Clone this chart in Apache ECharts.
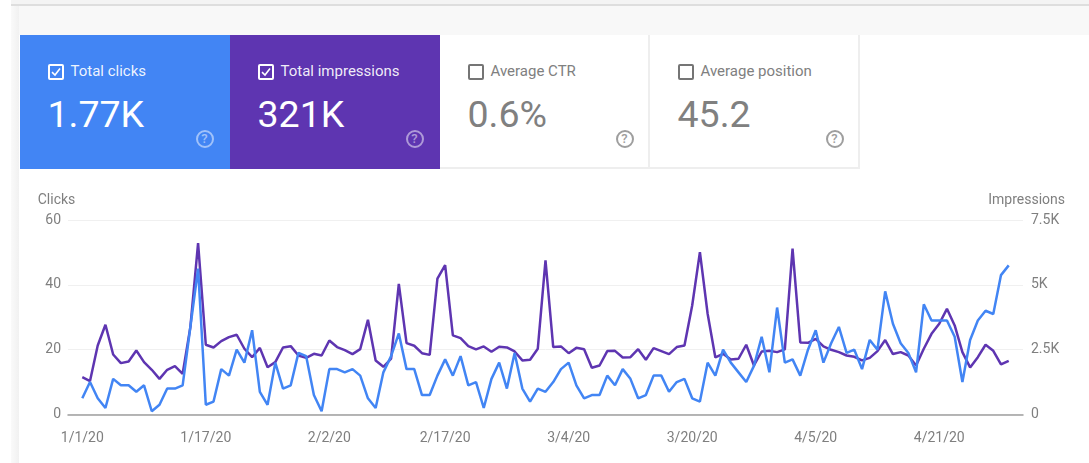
<!DOCTYPE html>
<html>
<head>
<meta charset="utf-8">
<title>Search performance</title>
<script src="https://cdn.jsdelivr.net/npm/echarts@6/dist/echarts.min.js"></script>
<style>
    html, body { margin: 0; padding: 0; width: 1089px; height: 463px; overflow: hidden; background: #fff; font-family: Roboto, sans-serif; }
    .topbar { position: absolute; left: 11px; top: 0; width: 1078px; height: 4px; background: #f4f4f4; border-bottom: 2px solid #dedede; }
    .band { position: absolute; left: 11px; top: 6px; width: 1078px; height: 29px; background: #f8f8f8; }
    .edge { position: absolute; left: 11px; top: 6px; width: 8px; height: 457px; background: linear-gradient(to right, #fafafa, #f1f1f1); }
    .tab { position: absolute; top: 35px; width: 210px; height: 134px; box-sizing: border-box; color: #808080; background: #fff; border-right: 2px solid #eeeeee; border-bottom: 2px solid #eeeeee; }
    .tab.on { color: #fff; border: 0; }
    .box { position: absolute; left: 28px; top: 29px; width: 16px; height: 16px; box-sizing: border-box; border: 2px solid #757575; border-radius: 2px; }
    .on .box { border-color: #fff; }
    .box svg { position: absolute; left: 0; top: 0; }
    .label { position: absolute; left: 51px; top: 27px; font-size: 15px; line-height: 18px; white-space: nowrap; }
    .on .label { color: rgba(255,255,255,0.92); }
    .num { position: absolute; left: 28px; top: 55px; font-size: 37.5px; line-height: 48px; white-space: nowrap; }
    .help { position: absolute; left: 176px; top: 95px; width: 18px; height: 18px; box-sizing: border-box; border: 2px solid #9e9e9e; border-radius: 50%; font-size: 13px; font-weight: 500; line-height: 14px; text-align: center; color: #9e9e9e; }
    .on .help { border-color: rgba(255,255,255,0.5); color: rgba(255,255,255,0.5); }
    #chart { position: absolute; left: 0; top: 0; width: 1089px; height: 463px; }
</style>
</head>
<body>
<div class="topbar"></div>
<div class="band"></div>
<div class="edge"></div>
<div id="chart"></div>
<div id="tabs"></div>
<script>
// x index is days since 1/1/20
const tickDays = [0, 16, 32, 47, 63, 79, 95, 111];
const tickLabels = ['1/1/20', '1/17/20', '2/2/20', '2/17/20', '3/4/20', '3/20/20', '4/5/20', '4/21/20'];

const clicks = [
    5, 10, 5, 2, 11, 9, 9, 7, 9, 1,
    3, 8, 8, 9, 27, 45, 3, 4, 14, 12,
    20, 16, 26, 7, 3, 16, 8, 9, 19, 18,
    6, 1, 14, 14, 13, 14, 12, 5, 2, 13,
    18, 25, 14, 14, 6, 6, 12, 17, 12, 18,
    9, 10, 2, 11, 16, 8, 19, 8, 4, 8,
    7, 10, 14, 16, 9, 5, 6, 6, 12, 9,
    14, 11, 5, 6, 12, 12, 7, 10, 11, 5,
    4, 16, 12, 20, 16, 13, 10, 15, 24, 13,
    33, 16, 17, 12, 20, 26, 16, 22, 27, 19,
    20, 14, 23, 20, 38, 28, 22, 19, 13, 34,
    29, 29, 29, 24, 10, 23, 29, 32, 31, 43, 46
];

const impressions = [
    1440, 1290, 2660, 3460, 2315, 1980, 2045, 2470, 2020, 1725,
    1375, 1725, 1865, 1570, 3370, 6610, 2690, 2585, 2830, 2985,
    3075, 2535, 2210, 2570, 1825, 2020, 2585, 2635, 2275, 2185,
    2340, 2275, 2855, 2600, 2480, 2330, 2520, 3650, 2085, 1840,
    2150, 5040, 2750, 2650, 2365, 2300, 5235, 5760, 3050, 2945,
    2635, 2510, 2625, 2420, 2610, 2585, 2430, 2085, 2110, 2535,
    5940, 2600, 2625, 2365, 2570, 2520, 1800, 1890, 2445, 2455,
    2200, 2210, 2520, 2110, 2560, 2445, 2330, 2600, 2660, 4205,
    6260, 3885, 2200, 2340, 2120, 2150, 2690, 1890, 2430, 2455,
    2405, 2510, 6400, 2780, 2765, 2920, 2625, 2495, 2405, 2275,
    2225, 2085, 2185, 2445, 2870, 2330, 2405, 2275, 1890, 2535,
    3110, 3500, 4075, 3435, 2405, 1815, 2210, 2690, 2455, 1930, 2070
];

const tabNames = ['Total clicks', 'Total impressions', 'Average CTR', 'Average position'];
const tabValues = ['1.77K', '321K', '0.6%', '45.2'];
const tabColors = ['#4285f4', '#5e35b1', null, null];

const tabs = document.getElementById('tabs');
tabNames.forEach((name, i) => {
    const el = document.createElement('div');
    el.className = tabColors[i] ? 'tab on' : 'tab';
    el.style.left = (19.5 + i * 210) + 'px';
    if (tabColors[i]) el.style.background = tabColors[i];
    const tick = tabColors[i]
        ? '<svg width="12" height="12" viewBox="0 0 12 12"><path d="M2 6.2 L5 9 L10 2.6" fill="none" stroke="#fff" stroke-width="1.6"/></svg>'
        : '';
    el.innerHTML = `<div class="box">${tick}</div><div class="label">${name}</div>` +
        `<div class="num">${tabValues[i]}</div><div class="help">?</div>`;
    tabs.appendChild(el);
});

const chart = echarts.init(document.getElementById('chart'));
const labelColor = '#7f7f7f';

chart.setOption({
    animation: false,
    grid: { left: 68, right: 66, top: 220, bottom: 48.5 },
    xAxis: {
        type: 'value',
        min: -1.85,
        max: 121.85,
        splitLine: { show: false },
        axisLine: { onZero: false, lineStyle: { color: '#9e9e9e', width: 1.5 } },
        axisTick: { show: false },
        axisLabel: {
            customValues: tickDays,
            color: labelColor,
            fontFamily: 'Roboto',
            fontSize: 14,
            margin: 17,
            formatter: v => tickLabels[tickDays.indexOf(v)]
        }
    },
    yAxis: [{
        type: 'value',
        name: 'Clicks',
        nameLocation: 'end',
        nameGap: 13,
        nameTextStyle: { color: labelColor, fontFamily: 'Roboto', fontSize: 14, align: 'right', padding: [0, 7, 0, 0] },
        min: 0,
        max: 60,
        interval: 20,
        axisLine: { show: false },
        axisTick: { show: false },
        axisLabel: { color: labelColor, fontFamily: 'Roboto', fontSize: 14, margin: 7 },
        splitLine: { lineStyle: { color: '#f0f0f0', width: 1 } }
    }, {
        type: 'value',
        name: 'Impressions',
        nameLocation: 'end',
        nameGap: 13,
        nameTextStyle: { color: labelColor, fontFamily: 'Roboto', fontSize: 14, align: 'right', padding: [0, -42, 0, 0] },
        min: 0,
        max: 7500,
        interval: 2500,
        axisLine: { show: false },
        axisTick: { show: false },
        axisLabel: {
            color: labelColor,
            fontFamily: 'Roboto',
            fontSize: 14,
            margin: 8,
            formatter: v => (v === 0 ? '0' : (v / 1000) + 'K')
        },
        splitLine: { show: false }
    }],
    series: [{
        name: 'Impressions',
        type: 'line',
        yAxisIndex: 1,
        showSymbol: false,
        lineStyle: { color: '#5e35b1', width: 2.5 },
        data: impressions.map((v, i) => [i, v])
    }, {
        name: 'Clicks',
        type: 'line',
        yAxisIndex: 0,
        showSymbol: false,
        lineStyle: { color: '#4285f4', width: 2.5 },
        data: clicks.map((v, i) => [i, v])
    }]
});
</script>
</body>
</html>
